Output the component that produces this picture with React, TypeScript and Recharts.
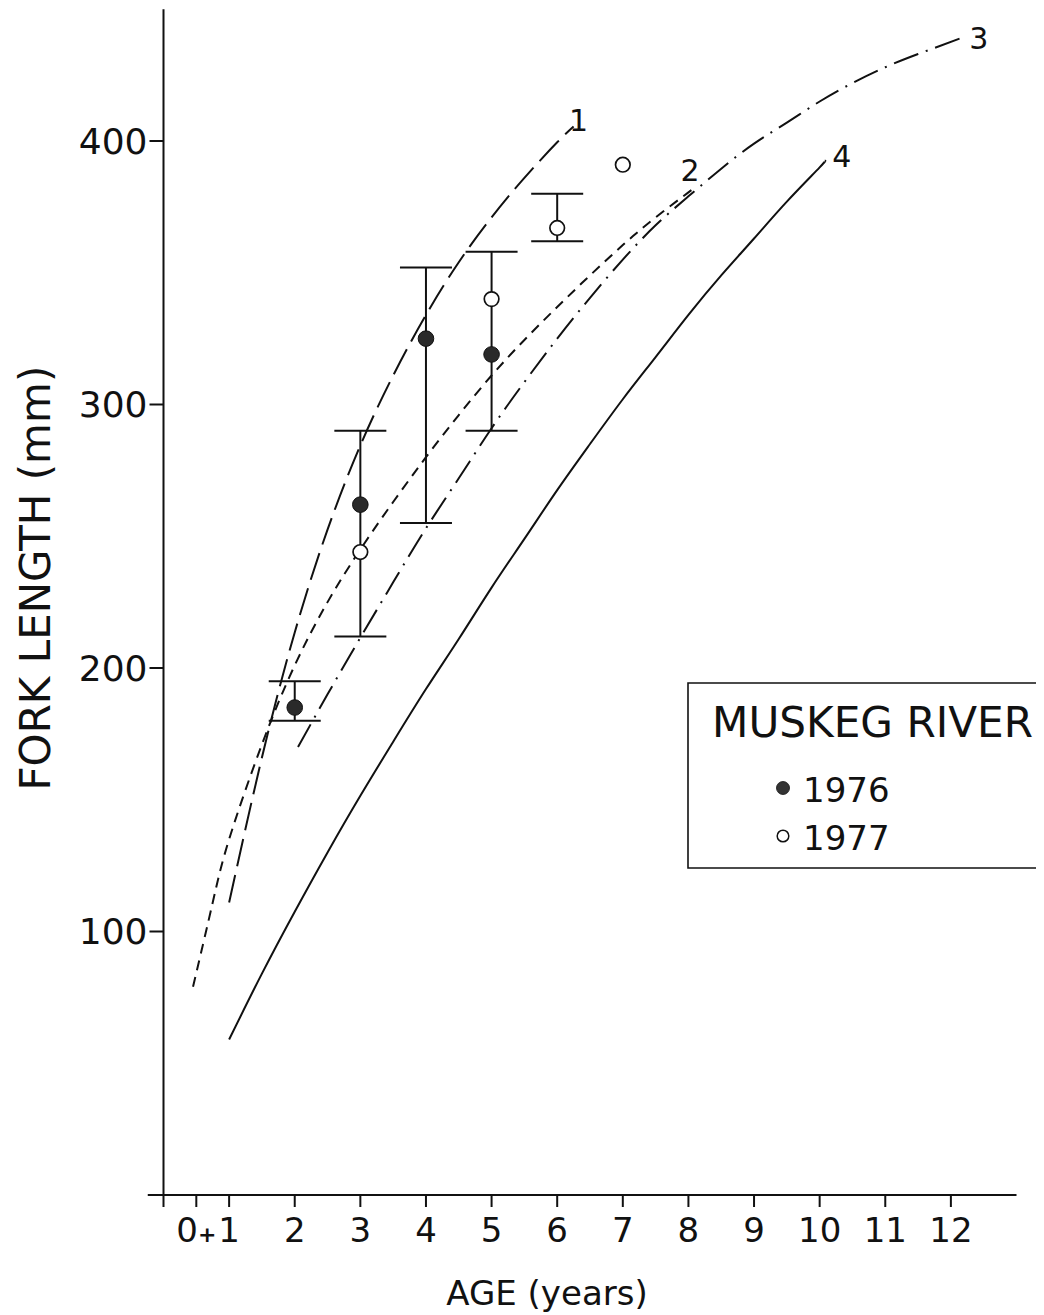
import React from 'react';
import {
  ComposedChart,
  Line,
  Scatter,
  XAxis,
  YAxis,
  ErrorBar,
  ReferenceLine,
  Legend,
} from 'recharts';

const FONT = '"DejaVu Sans", "Liberation Sans", sans-serif';
const INK = '#111';

// Axis ticks
const ageTicks = [0, 0.5, 1, 2, 3, 4, 5, 6, 7, 8, 9, 10, 11, 12];
const lengthTicks = [100, 200, 300, 400];

// Growth curves (age in years, fork length in mm)
const curve1: [number, number][] = [
  [1, 111], [1.5, 166], [2, 213.5], [2.5, 252.5], [3, 284.5], [3.5, 311], [4, 334],
  [4.5, 354], [5, 371], [5.5, 386], [6, 399.5], [6.25, 405.5],
];
const curve2: [number, number][] = [
  [0.45, 79], [0.75, 111], [1, 135], [1.5, 171], [2, 201], [2.5, 225], [3, 245],
  [3.5, 263], [4, 280], [4.5, 296], [5, 311], [5.5, 324.5], [6, 337], [6.5, 349],
  [7, 360.5], [7.5, 371], [8, 380.5], [8.1, 382.5],
];
const curve3: [number, number][] = [
  [2.05, 170], [2.5, 190], [3, 211.5], [3.5, 232.5], [4, 253], [4.5, 272], [5, 291],
  [5.5, 308.5], [6, 325], [6.5, 340.5], [7, 355], [7.5, 368], [8, 379], [8.5, 389.5],
  [9, 399], [9.5, 407], [10, 415], [10.5, 422], [11, 428], [11.5, 433], [12.15, 439],
];
const curve4: [number, number][] = [
  [1, 59], [1.5, 84], [2, 107.5], [2.5, 130], [3, 151.5], [3.5, 172], [4, 192],
  [4.5, 211], [5, 230.5], [5.5, 249], [6, 267.5], [6.5, 285], [7, 302], [7.5, 318],
  [8, 334], [8.5, 349], [9, 363], [9.5, 377], [10, 390], [10.08, 392.5],
];

// Mean fork length at age, Muskeg River samples
const ages1976 = [2, 3, 4, 5];
const lengths1976 = [185, 262, 325, 319];
const ages1977 = [3, 5, 6, 7];
const lengths1977 = [244, 340, 367, 391];

// Observed ranges
const rangeAges = [2, 3, 4, 5, 6];
const rangeLow = [180, 212, 255, 290, 362];
const rangeHigh = [195, 290, 352, 358, 380];

const toRows = (pts: [number, number][]) => pts.map(([age, len]) => ({ age, len }));
const rows1976 = ages1976.map((age, i) => ({ age, len: lengths1976[i] }));
const rows1977 = ages1977.map((age, i) => ({ age, len: lengths1977[i] }));
const rangeRows = rangeAges.map((age, i) => {
  const mid = (rangeLow[i] + rangeHigh[i]) / 2;
  return { age, len: mid, err: [mid - rangeLow[i], rangeHigh[i] - mid] };
});

const endLabel = (text: string, count: number, dx: number, dy: number) => (props: any) => {
  if (props.index !== count - 1) return <g />;
  return (
    <text
      x={props.x + dx}
      y={props.y + dy}
      textAnchor="middle"
      dominantBaseline="central"
      fontFamily={FONT}
      fontSize={30}
      fill={INK}
    >
      {text}
    </text>
  );
};

const AgeTick = (props: any) => {
  const { x, y, payload } = props;
  const v = payload.value;
  if (v === 0) return <g />;
  return (
    <text x={x} y={y} dy="0.72em" textAnchor="middle" fontFamily={FONT} fontSize={34} fill={INK}>
      {v === 0.5 ? (
        <>
          0
          <tspan fontWeight="bold" fontSize={22}>+</tspan>
        </>
      ) : (
        String(v)
      )}
    </text>
  );
};

const YTitle = (props: any) => {
  const vb = props.viewBox || { x: 0, y: 0, width: 0, height: 0 };
  const cx = vb.x + 27;
  const cy = vb.y + vb.height / 2 - 24;
  return (
    <text
      x={cx}
      y={cy}
      transform={`rotate(-90 ${cx} ${cy})`}
      textAnchor="middle"
      dominantBaseline="central"
      fontFamily={FONT}
      fontSize={42}
      fill={INK}
    >
      FORK LENGTH (mm)
    </text>
  );
};

const XTitle = (props: any) => {
  const vb = props.viewBox || { x: 0, y: 0, width: 0, height: 0 };
  return (
    <text
      x={vb.x + 383.5}
      y={vb.y + 110}
      textAnchor="middle"
      fontFamily={FONT}
      fontSize={34}
      fill={INK}
    >
      AGE (years)
    </text>
  );
};

const LegendBox = (props: any) => {
  const items = (props.payload || []).filter(
    (p: any) => p.value === '1976' || p.value === '1977'
  );
  return (
    <svg width={357} height={188} style={{ display: 'block' }}>
      <path d="M357 1 H1 V186 H357" fill="none" stroke={INK} strokeWidth={1.6} />
      <text
        x={25}
        y={55}
        fontFamily={FONT}
        fontSize={43}
        fill={INK}
        textLength={321}
        lengthAdjust="spacingAndGlyphs"
      >
        MUSKEG RIVER
      </text>
      {items.map((it: any, i: number) => {
        const cy = 106 + i * 48;
        const filled = it.value === '1976';
        return (
          <g key={it.value}>
            <circle
              cx={96}
              cy={cy}
              r={filled ? 6.5 : 5.8}
              fill={filled ? '#333' : '#fff'}
              stroke={INK}
              strokeWidth={filled ? 0.8 : 1.5}
            />
            <text x={116} y={cy + 14} fontFamily={FONT} fontSize={34} fill={INK}>
              {it.value}
            </text>
          </g>
        );
      })}
    </svg>
  );
};

const FilledDot = (p: any) => (
  <circle cx={p.cx} cy={p.cy} r={7.8} fill="#2a2a2a" stroke={INK} strokeWidth={1} />
);
const OpenDot = (p: any) => (
  <circle cx={p.cx} cy={p.cy} r={7.3} fill="#fff" stroke={INK} strokeWidth={1.7} />
);

export default function App() {
  return (
    <ComposedChart
      width={1036}
      height={1307}
      margin={{ top: 1.25, right: 27.5, bottom: 0, left: 0 }}
    >
      <XAxis
        type="number"
        dataKey="age"
        domain={[0, 13]}
        ticks={ageTicks}
        interval={0}
        tick={<AgeTick />}
        tickSize={12}
        tickMargin={11}
        height={120}
        axisLine={{ stroke: INK, strokeWidth: 2 }}
        tickLine={{ stroke: INK, strokeWidth: 2 }}
        allowDataOverflow
        label={<XTitle />}
      />
      <YAxis
        type="number"
        dataKey="len"
        domain={[0, 450]}
        ticks={lengthTicks}
        interval={0}
        width={155.5}
        tickSize={14}
        tickMargin={2}
        tick={{ fill: INK, fontSize: 36, fontFamily: FONT }}
        axisLine={{ stroke: INK, strokeWidth: 2 }}
        tickLine={{ stroke: INK, strokeWidth: 2 }}
        allowDataOverflow
        label={<YTitle />}
      />
      <ReferenceLine
        segment={[{ x: -0.24, y: 0 }, { x: 0, y: 0 }]}
        ifOverflow="visible"
        stroke={INK}
        strokeWidth={2}
      />

      <Line
        data={toRows(curve1)}
        dataKey="len"
        type="natural"
        stroke={INK}
        strokeWidth={2}
        strokeDasharray="28 9"
        dot={false}
        activeDot={false}
        legendType="none"
        isAnimationActive={false}
        label={endLabel('1', curve1.length, 5, -6)}
      />
      <Line
        data={toRows(curve2)}
        dataKey="len"
        type="natural"
        stroke={INK}
        strokeWidth={2}
        strokeDasharray="10 7"
        dot={false}
        activeDot={false}
        legendType="none"
        isAnimationActive={false}
        label={endLabel('2', curve2.length, -5, -17)}
      />
      <Line
        data={toRows(curve3)}
        dataKey="len"
        type="natural"
        stroke={INK}
        strokeWidth={2}
        strokeDasharray="26 8 2 8"
        dot={false}
        activeDot={false}
        legendType="none"
        isAnimationActive={false}
        label={endLabel('3', curve3.length, 18, 0)}
      />
      <Line
        data={toRows(curve4)}
        dataKey="len"
        type="natural"
        stroke={INK}
        strokeWidth={2}
        dot={false}
        activeDot={false}
        legendType="none"
        isAnimationActive={false}
        label={endLabel('4', curve4.length, 17, -4)}
      />

      <Scatter
        data={rangeRows}
        dataKey="len"
        shape={() => <g />}
        legendType="none"
        isAnimationActive={false}
      >
        <ErrorBar dataKey="err" direction="y" width={26} stroke={INK} strokeWidth={2} />
      </Scatter>
      <Scatter
        name="1976"
        data={rows1976}
        dataKey="len"
        shape={FilledDot}
        isAnimationActive={false}
      />
      <Scatter
        name="1977"
        data={rows1977}
        dataKey="len"
        shape={OpenDot}
        isAnimationActive={false}
      />

      <Legend
        layout="horizontal"
        verticalAlign="middle"
        align="center"
        content={<LegendBox />}
        wrapperStyle={{ position: 'absolute', left: 679, top: 674, width: 357, height: 188 }}
      />
    </ComposedChart>
  );
}
